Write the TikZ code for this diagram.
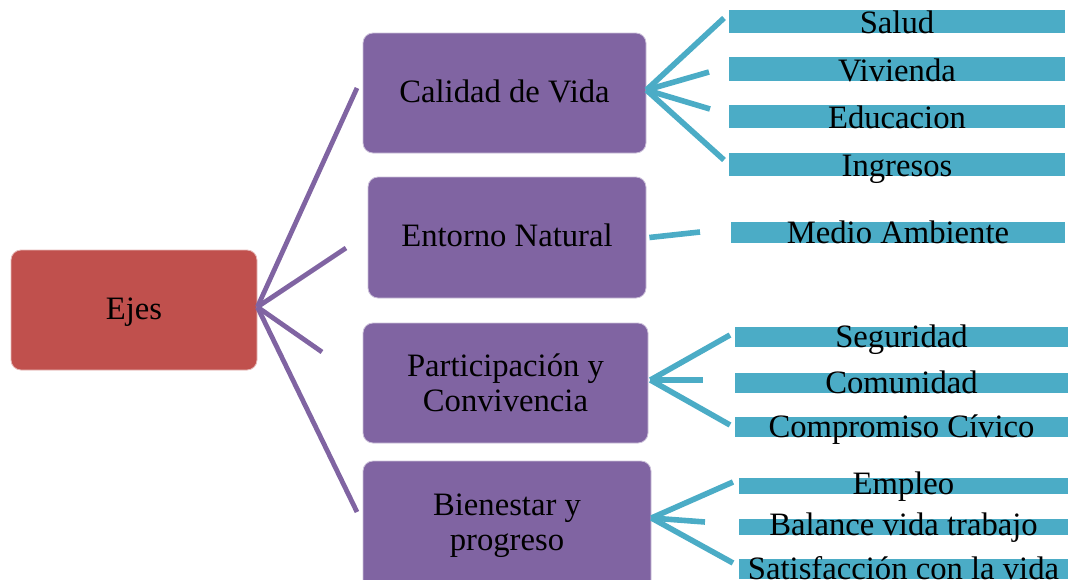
\documentclass[tikz,border=0pt]{standalone}
\usepackage{fontspec}
\setmainfont{Liberation Serif}
\definecolor{ejesred}{HTML}{C0504D}
\definecolor{axpurple}{HTML}{8064A2}
\definecolor{itemblue}{HTML}{4BACC6}
\tikzset{
  lbl/.style={font=\fontsize{24.5}{26.25}\selectfont, text=black},
  box/.style 2 args={lbl, rounded corners=7.5pt, inner sep=0pt, align=center,
    minimum width=#1*0.75pt, minimum height=#2*0.75pt},
  oneline/.style={text height=18pt, text depth=4.5pt},
  redbox/.style={fill=ejesred, draw=ejesred!40!white, line width=0.6pt},
  purplebox/.style={fill=axpurple, draw=axpurple!40!white, line width=0.6pt},
  bar/.style 2 args={lbl, fill=itemblue, inner xsep=0pt, inner ysep=0pt,
    minimum width=#1*0.75pt, minimum height=#2*0.75pt,
    text height=#2*0.75pt, text depth=0pt},
  plink/.style={draw=axpurple, line width=3.6pt, line cap=butt},
  blink/.style={draw=itemblue, line width=4.2pt, line cap=butt},
}
\begin{document}
\begin{tikzpicture}[x=0.75pt, y=-0.75pt]
\useasboundingbox (0,0) rectangle (1068,579);

% main boxes
\node[box={246}{120}, redbox, oneline] (ejes) at (134,310) {Ejes};
\node[box={283}{120}, purplebox, oneline] (cal) at (504.5,93) {Calidad de Vida};
\node[box={278}{121}, purplebox, oneline] (ent) at (507,237.5) {Entorno Natural};
\node[box={285}{120}, purplebox] (par) at (505.5,383) {Participación y\\Convivencia};
\node[box={288}{130}, purplebox] (bie) at (507,526) {Bienestar y\\progreso};

% item bars
\node[bar={336}{23}] (salud) at (897,21.5) {Salud};
\node[bar={336}{24}] (viv) at (897,69) {Vivienda};
\node[bar={336}{23}] (edu) at (897,116.5) {Educacion};
\node[bar={336}{23}] (ing) at (897,164.5) {Ingresos};
\node[bar={334}{21}] (med) at (898,232.5) {Medio Ambiente};
\node[bar={333}{20}] (seg) at (901.5,337) {Seguridad};
\node[bar={333}{20}] (com) at (901.5,383) {Comunidad};
\node[bar={333}{20}] (civ) at (901.5,427) {Compromiso Cívico};
\node[bar={329}{16}] (emp) at (903.5,486) {Empleo};
\node[bar={329}{16}] (bal) at (903.5,527) {Balance vida trabajo};
\node[bar={329}{20}] (sat) at (903.5,569) {Satisfacción con la vida};

% free ends of connectors
\coordinate (p1) at (357,88);
\coordinate (p2) at (346,248);
\coordinate (p3) at (322,352);
\coordinate (p4) at (357,512);
\coordinate (c1) at (724,18);
\coordinate (c2) at (709,72);
\coordinate (c3) at (710,109);
\coordinate (c4) at (724,160);
\coordinate (e1) at (700,232);
\coordinate (q1) at (730,335);
\coordinate (q2) at (703,380);
\coordinate (q3) at (730,425);
\coordinate (b1) at (733,482);
\coordinate (b2) at (705,522);
\coordinate (b3) at (733,563);

% purple connectors
\foreach \t in {p1,p2,p3,p4} \draw[plink] ([yshift=2.25pt]ejes.east) -- (\t);
% blue connectors
\foreach \t in {c1,c2,c3,c4} \draw[blink] ([yshift=2.25pt]cal.east) -- (\t);
\draw[blink] ([xshift=2.25pt]ent.east) -- (e1);
\foreach \t in {q1,q2,q3} \draw[blink] ([shift={(2,2.25pt)}]par.east) -- (\t);
\foreach \t in {b1,b2,b3} \draw[blink] ([yshift=6pt]bie.east) -- (\t);
\end{tikzpicture}
\end{document}
